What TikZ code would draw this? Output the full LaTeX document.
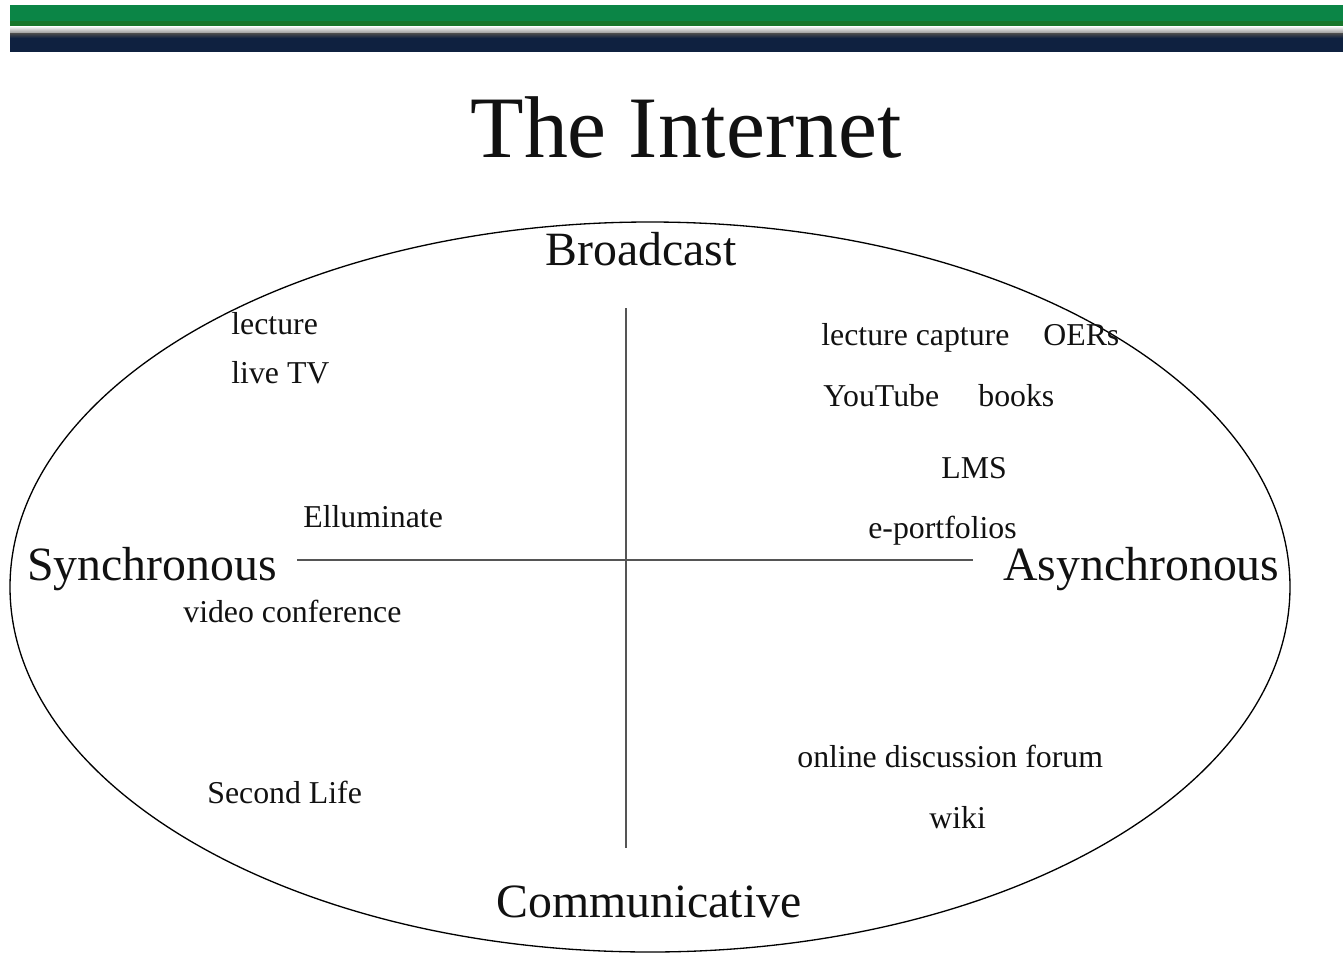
\documentclass[tikz,border=0pt]{standalone}
\usepackage{fontspec}
\setmainfont{Liberation Serif}
\usetikzlibrary{positioning}
\definecolor{bangreen}{HTML}{0B8546}
\definecolor{bandark}{HTML}{17762A}
\definecolor{bannavy}{HTML}{0F2140}
\definecolor{axisgray}{HTML}{555555}
\definecolor{inkdark}{HTML}{111111}

\begin{document}
\begin{tikzpicture}[x=0.02cm,y=-0.02cm,
  item/.style={anchor=base west,inner sep=0pt,text=inkdark,
    font=\fontsize{18.1}{20}\selectfont},
  pole/.style={anchor=base west,inner sep=0pt,text=inkdark,
    font=\fontsize{27.2}{30}\selectfont},
  ax/.style={line width=1.1pt,axisgray}]
\useasboundingbox (0,0) rectangle (1343,954);
% banner
\fill[bangreen] (10,5) rectangle (1343,21);
\fill[bandark] (10,21) rectangle (1343,26);
\shade[top color=white,bottom color=white!60!black] (10,26) rectangle (1343,33);
\shade[top color=black!70,bottom color=bannavy] (10,33) rectangle (1343,38);
\fill[bannavy] (10,38) rectangle (1343,52);
% title and outline
\node[anchor=base,inner sep=0pt,text=inkdark,font=\fontsize{49.9}{54}\selectfont]
  (title) at (686,157) {The Internet};
\draw[line width=0.75pt] (650,587) ellipse [x radius=640,y radius=365];
% axes
\coordinate (top) at (626,308); \coordinate (bot) at (626,848);
\coordinate (west) at (297,560); \coordinate (east) at (973,560);
\draw[ax] (top)--(bot); \draw[ax] (west)--(east);
% poles
\node[pole] (broadcast) at (545,265) {Broadcast};
\node[pole] (sync) at (27,580) {Synchronous};
\node[pole] (async) at (1003,580) {Asynchronous};
\node[pole] (comm) at (496,917) {Communicative};
% tools
\node[item] (lecture) at (231,334) {lecture};
\node[item] (livetv) at (231,383) {live TV};
\node[item] (capture) at (821,345) {lecture capture};
\node[item] (oers) at (1043,345) {OERs};
\node[item] (youtube) at (823,406) {YouTube};
\node[item] (books) at (978,406) {books};
\node[item] (lms) at (941,478) {LMS};
\node[item] (eport) at (868,538) {e-portfolios};
\node[item] (elluminate) at (303,527) {Elluminate};
\node[item] (videoconf) at (183,622) {video conference};
\node[item] (secondlife) at (207,803) {Second Life};
\node[item] (forum) at (797,767) {online discussion forum};
\node[item] (wiki) at (929,828) {wiki};
\end{tikzpicture}
\end{document}
